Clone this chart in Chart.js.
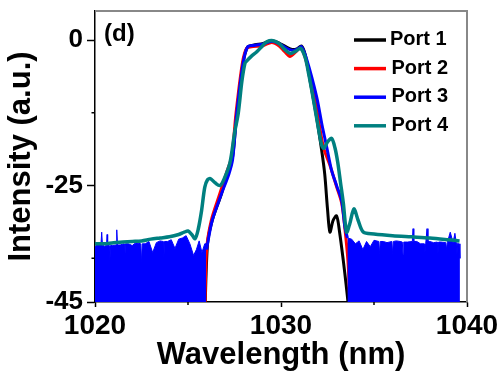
<!DOCTYPE html>
<html>
<head>
<meta charset="utf-8">
<script src="https://cdn.jsdelivr.net/npm/chart.js@4.4.0/dist/chart.umd.min.js"></script>
<style>
  html, body { margin: 0; padding: 0; background: #fff; }
</style>
</head>
<body>
<canvas id="chart" width="498" height="378"></canvas>
<script>
// axis ticks
const xTicks = [1020, 1030, 1040]
const xMinorTicks = [1025, 1035]
const yTicks = [-45, -25, 0]
const yMinorTicks = [-37.5, -12.5]

const portLabels = ['Port 1', 'Port 2', 'Port 3', 'Port 4']
const portColors = ['#000000', '#ff0000', '#0000ff', '#008080']

// Port 1 (black)
const port1Wl = [1025.9, 1026.05, 1026.3, 1026.8, 1027.15, 1027.4, 1027.62, 1027.96, 1028.2, 1028.6, 1029.0, 1029.5, 1029.9, 1030.3, 1030.6, 1030.85, 1031.1, 1031.3, 1031.56, 1031.9, 1032.19, 1032.35, 1032.5, 1032.63, 1032.8, 1032.99, 1033.15, 1033.35, 1033.5, 1033.62, 1033.7]
const port1Int = [-48, -35, -31, -26.4, -22.5, -20, -12.6, -4, -1.2, -0.8, -0.6, -0.1, -0.5, -1.2, -1.6, -1.5, -1.0, -2.5, -6.9, -13, -19, -23, -29, -33, -31, -30.2, -33, -37.9, -42, -45.7, -50]

// Port 2 (red)
const port2Wl = [1025.9, 1026.0, 1026.25, 1026.7, 1027.1, 1027.35, 1027.58, 1027.92, 1028.15, 1028.5, 1029.0, 1029.5, 1029.9, 1030.2, 1030.48, 1030.8, 1031.05, 1031.3, 1031.6, 1031.9, 1032.28, 1032.63, 1032.99, 1033.26, 1033.44, 1033.6, 1033.7, 1033.8]
const port2Int = [-48, -36, -31, -26.5, -22.5, -20, -12.6, -4, -1.4, -1.1, -1.0, -0.4, -1.0, -2.0, -2.8, -2.0, -1.3, -3.0, -7, -11.5, -18.4, -21.5, -25.2, -28, -32.5, -38, -45, -50]

// Port 3 (blue) pass band
const port3Wl = [1026.0, 1026.05, 1026.3, 1026.8, 1027.2, 1027.4, 1027.62, 1027.96, 1028.2, 1028.6, 1029.0, 1029.5, 1029.9, 1030.3, 1030.65, 1030.9, 1031.1, 1031.4, 1031.92, 1032.2, 1032.46, 1032.72, 1032.99, 1033.26, 1033.44, 1033.57]
const port3Int = [-36, -35, -31, -26.4, -23, -20.5, -12.6, -4, -1.2, -0.9, -0.7, -0.2, -0.6, -1.4, -1.8, -1.5, -1.15, -3.5, -9.8, -14.5, -18.4, -22.4, -25, -27.6, -32.2, -34]

// Port 3 noise floor, left and right of the band
const floorLeftWl = [1020.0, 1020.2, 1020.32, 1020.36, 1020.4, 1020.5, 1020.62, 1020.65, 1020.68, 1020.76, 1020.8, 1020.84, 1020.95, 1021.13, 1021.17, 1021.21, 1021.35, 1021.56, 1021.6, 1021.64, 1021.8, 1022.0, 1022.2, 1022.46, 1022.5, 1022.54, 1022.7, 1022.9, 1023.1, 1023.3, 1023.5, 1023.66, 1023.7, 1023.74, 1023.9, 1024.1, 1024.3, 1024.5, 1024.7, 1024.9, 1025.1, 1025.3, 1025.45, 1025.6, 1025.75, 1025.9, 1025.97]
const floorLeftInt = [-35.5, -35.0, -35.2, -33.0, -35.2, -35.4, -35.3, -33.4, -35.3, -35.3, -37.8, -35.3, -35.3, -35.2, -32.6, -35.2, -35.2, -35.0, -37.6, -35.0, -35.0, -35.3, -34.8, -35.0, -38.2, -35.0, -35.0, -34.6, -36.5, -34.8, -34.5, -34.6, -37.5, -34.6, -34.6, -34.3, -35.8, -34.2, -34.0, -33.6, -35.0, -37.0, -36.0, -34.5, -36.5, -35.0, -35.0]
const floorRightWl = [1033.57, 1033.8, 1034.0, 1034.2, 1034.4, 1034.6, 1034.8, 1035.0, 1035.26, 1035.3, 1035.34, 1035.5, 1035.7, 1035.96, 1036.0, 1036.04, 1036.2, 1036.4, 1036.52, 1036.56, 1036.6, 1036.8, 1037.06, 1037.1, 1037.14, 1037.3, 1037.5, 1037.7, 1037.74, 1037.78, 1037.85, 1037.9, 1038.0, 1038.2, 1038.4, 1038.44, 1038.48, 1038.6, 1038.86, 1038.9, 1038.94, 1039.1, 1039.25, 1039.35, 1039.42, 1039.46, 1039.5, 1039.58, 1039.62]
const floorRightInt = [-34.0, -34.2, -35.0, -34.5, -36.0, -34.6, -35.5, -34.4, -34.6, -36.7, -34.6, -34.6, -34.8, -34.6, -36.7, -34.6, -34.5, -34.6, -34.7, -36.8, -34.7, -34.7, -34.6, -32.4, -34.6, -34.6, -35.0, -35.0, -36.5, -35.0, -32.4, -34.6, -34.6, -34.8, -34.7, -36.6, -34.7, -34.7, -34.8, -36.0, -34.8, -33.0, -34.8, -33.2, -34.8, -36.8, -35.0, -35.0, -37.5]

// Port 4 (teal)
const port4Wl = [1020.0, 1020.5, 1021.0, 1021.5, 1022.0, 1022.5, 1023.0, 1023.5, 1024.0, 1024.5, 1024.8, 1025.0, 1025.2, 1025.38, 1025.55, 1025.73, 1025.9, 1026.05, 1026.2, 1026.45, 1026.72, 1026.95, 1027.26, 1027.5, 1027.7, 1027.9, 1028.06, 1028.15, 1028.4, 1028.7, 1029.0, 1029.23, 1029.57, 1029.9, 1030.2, 1030.5, 1030.8, 1031.05, 1031.3, 1031.5, 1031.72, 1031.95, 1032.19, 1032.31, 1032.5, 1032.72, 1032.9, 1033.05, 1033.2, 1033.35, 1033.53, 1033.7, 1033.92, 1034.15, 1034.43, 1035.0, 1036.0, 1037.0, 1038.0, 1039.0, 1039.6]
const port4Int = [-35.0, -35.0, -34.8, -34.7, -34.6, -34.5, -34.2, -34.0, -33.8, -33.4, -33.0, -32.8, -33.4, -34.1, -32.5, -29.3, -25.3, -24.0, -23.8, -24.5, -25.0, -23.8, -21, -16, -12.6, -7, -4, -3.6, -2.8, -2.0, -1.0, -0.3, -0.1, -0.6, -1.6, -2.3, -1.9, -1.4, -3, -6, -9.8, -14, -18.1, -18.6, -17.5, -16.9, -18.5, -21, -24.5, -28, -33, -31.5, -29, -31, -33, -33.3, -33.6, -33.8, -34.0, -34.3, -34.5]

const FONT = '"Liberation Sans", Arial, sans-serif'

function toPoints (xs, ys) {
  return xs.map((x, i) => ({ x, y: ys[i] }))
}

function lineSet (label, color, xs, ys, order, width) {
  return {
    label,
    data: toPoints(xs, ys),
    borderColor: color,
    backgroundColor: color,
    borderWidth: width,
    pointRadius: 0,
    tension: 0.3,
    fill: false,
    order
  }
}

function floorSet (xs, ys) {
  return {
    label: 'floor',
    data: toPoints(xs, ys),
    borderColor: portColors[2],
    backgroundColor: portColors[2],
    borderWidth: 1,
    pointRadius: 0,
    tension: 0,
    fill: 'start',
    order: 1
  }
}

// legend drawn inside the plot, top right
const insideLegend = {
  id: 'insideLegend',
  afterDatasetsDraw (chart) {
    const { ctx, chartArea } = chart
    ctx.save()
    ctx.font = 'bold 20px ' + FONT
    ctx.textBaseline = 'alphabetic'
    portLabels.forEach((label, i) => {
      const y = chartArea.top + 29 + i * 28.6
      const x = chartArea.right - 113
      ctx.strokeStyle = portColors[i]
      ctx.lineWidth = 3.5
      ctx.beginPath()
      ctx.moveTo(x, y)
      ctx.lineTo(x + 32, y)
      ctx.stroke()
      ctx.fillStyle = '#000'
      ctx.fillText(label, x + (i === 0 ? 36 : 37.5), y + 5)
    })
    ctx.font = 'bold 24px ' + FONT
    ctx.fillText('(d)', chartArea.left + 9, chartArea.top + 30)
    ctx.restore()
  }
}

// gray top/right frame + short minor ticks
const frame = {
  id: 'frame',
  afterDraw (chart) {
    const { ctx, chartArea, scales } = chart
    ctx.save()
    ctx.strokeStyle = '#888'
    ctx.lineWidth = 2
    ctx.beginPath()
    ctx.moveTo(chartArea.left, chartArea.top)
    ctx.lineTo(chartArea.right, chartArea.top)
    ctx.lineTo(chartArea.right, chartArea.bottom)
    ctx.stroke()
    ctx.strokeStyle = '#000'
    ctx.lineWidth = 1.5
    ctx.beginPath()
    for (const v of xMinorTicks) {
      const px = scales.x.getPixelForValue(v)
      ctx.moveTo(px, chartArea.bottom)
      ctx.lineTo(px, chartArea.bottom + 3)
    }
    for (const v of yMinorTicks) {
      const py = scales.y.getPixelForValue(v)
      ctx.moveTo(chartArea.left - 3.5, py)
      ctx.lineTo(chartArea.left, py)
    }
    ctx.stroke()
    ctx.restore()
  }
}

new Chart(document.getElementById('chart'), {
  type: 'line',
  data: {
    datasets: [
      lineSet(portLabels[0], portColors[0], port1Wl, port1Int, 3, 3),
      lineSet(portLabels[1], portColors[1], port2Wl, port2Int, 2, 3),
      lineSet(portLabels[2], portColors[2], port3Wl, port3Int, 1, 3),
      lineSet(portLabels[3], portColors[3], port4Wl, port4Int, 0, 3.5),
      floorSet(floorLeftWl, floorLeftInt),
      floorSet(floorRightWl, floorRightInt)
    ]
  },
  options: {
    responsive: false,
    animation: false,
    devicePixelRatio: 1,
    layout: { padding: { top: 11, right: 31, left: 0, bottom: 0 } },
    plugins: {
      legend: { display: false },
      tooltip: { enabled: false }
    },
    scales: {
      x: {
        type: 'linear',
        min: 1020,
        max: 1040,
        afterBuildTicks: (scale) => { scale.ticks = xTicks.map(v => ({ value: v })) },
        afterFit: (scale) => {
          scale.height = 76
          scale.paddingLeft = 0
          scale.paddingRight = 0
        },
        ticks: {
          color: '#000',
          font: { family: FONT, size: 28, weight: 'bold' },
          padding: 2,
          maxRotation: 0,
          callback: (v) => String(v)
        },
        grid: { drawOnChartArea: false, tickLength: 5, tickWidth: 1.5, tickColor: '#000' },
        border: { color: '#000', width: 1.5 },
        title: {
          display: true,
          text: 'Wavelength (nm)',
          color: '#000',
          font: { family: FONT, size: 31, weight: 'bold' },
          padding: { top: 0, bottom: 4 }
        }
      },
      y: {
        type: 'linear',
        min: -45,
        max: 5,
        afterBuildTicks: (scale) => { scale.ticks = yTicks.map(v => ({ value: v })) },
        afterFit: (scale) => {
          scale.width = 95
          scale.paddingTop = 0
          scale.paddingBottom = 0
        },
        ticks: {
          color: '#000',
          font: { family: FONT, size: 26, weight: 'bold' },
          padding: 4,
          callback: (v) => String(v)
        },
        grid: { drawOnChartArea: false, tickLength: 8, tickWidth: 1.5, tickColor: '#000' },
        border: { color: '#000', width: 1.5 },
        title: {
          display: true,
          text: 'Intensity (a.u.)',
          color: '#000',
          font: { family: FONT, size: 31, weight: 'bold' },
          padding: { top: 3, bottom: 0 }
        }
      }
    }
  },
  plugins: [insideLegend, frame]
})
</script>
</body>
</html>
